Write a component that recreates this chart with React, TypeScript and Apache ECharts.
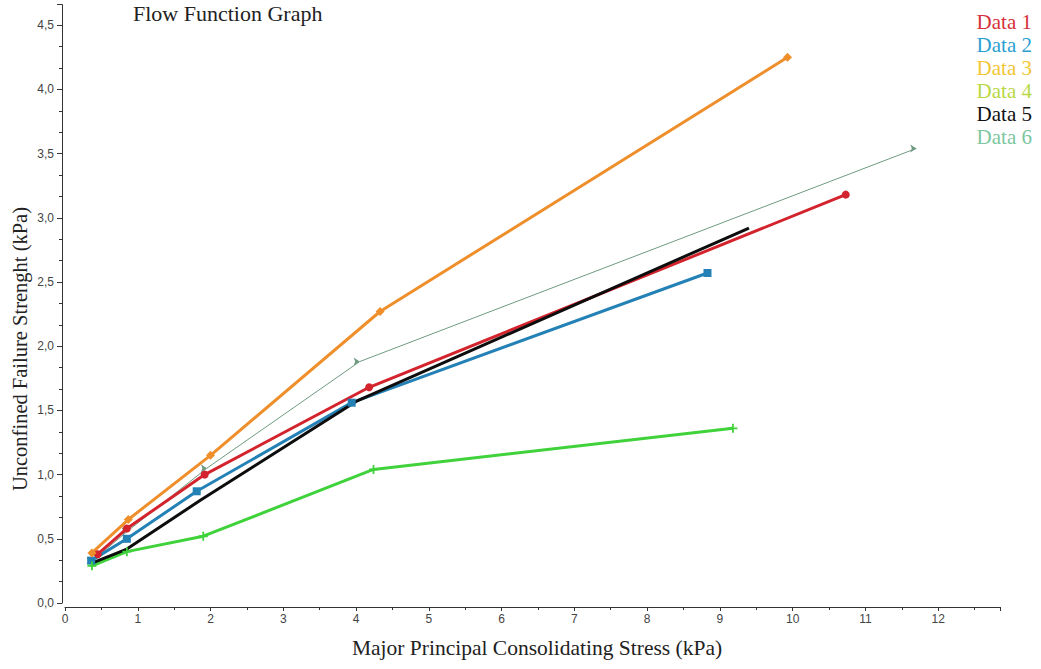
import React, { useEffect, useRef } from "react";
import * as echarts from "echarts";

const seriesNames = ["Data 1", "Data 2", "Data 3", "Data 4", "Data 5", "Data 6"];
const legendColors = ["#d6303a", "#2b9fd0", "#f2c634", "#b9d845", "#111111", "#7cc6a0"];
const lineColors = ["#d3232c", "#2381b6", "#ef8f2c", "#3fd23b", "#0d0d0d", "#6f9a80"];

const data1: [number, number][] = [[0.45, 0.38], [0.85, 0.58], [1.92, 1.0], [4.18, 1.68], [10.73, 3.18]];
const data2: [number, number][] = [[0.36, 0.33], [0.85, 0.5], [1.81, 0.87], [3.94, 1.56], [8.83, 2.57]];
const data3: [number, number][] = [[0.37, 0.39], [0.87, 0.65], [2.0, 1.15], [4.33, 2.27], [9.93, 4.25]];
const data4: [number, number][] = [[0.37, 0.29], [0.85, 0.4], [1.9, 0.52], [4.24, 1.04], [9.18, 1.36]];
const data5: [number, number][] = [[0.37, 0.31], [0.85, 0.42], [1.86, 0.8], [4.0, 1.57], [9.4, 2.92]];
const data6: [number, number][] = [[0.38, 0.33], [0.86, 0.56], [1.95, 1.05], [4.05, 1.88], [11.7, 3.54]];

const allData = [data1, data2, data3, data4, data5, data6];
const symbols = [
  "circle",
  "rect",
  "diamond",
  "path://M4,0H6V4H10V6H6V10H4V6H0V4H4Z",
  "none",
  "arrow",
];
const symbolSizes = [8, 8, 9, 9, 0, 6];
const lineWidths = [3, 3, 3, 3, 3, 1];

const titleText = "Flow Function Graph";
const xTitle = "Major Principal Consolidating Stress (kPa)";
const yTitle = "Unconfined Failure Strenght (kPa)";

export default function App() {
  const ref = useRef<HTMLDivElement>(null);
  useEffect(() => {
    if (!ref.current) return;
    const chart = echarts.init(ref.current, null, { renderer: "svg" });
    const serif = "'Liberation Serif', 'Times New Roman', serif";
    const sans = "'Liberation Sans', Arial, sans-serif";
    chart.setOption({
      animation: false,
      backgroundColor: "#ffffff",
      grid: { left: 65, right: 41, top: 4.6, bottom: 66, containLabel: false },
      legend: {
        orient: "vertical",
        right: 4,
        top: 6,
        itemWidth: 0,
        itemHeight: 0,
        itemGap: 2,
        icon: "rect",
        selectedMode: false,
        textStyle: { fontFamily: serif, fontSize: 21, padding: 0 },
        data: seriesNames.map((n, i) => ({ name: n, textStyle: { color: legendColors[i] } })),
      },
      graphic: [
        {
          type: "text",
          left: 133,
          top: 2,
          style: { text: titleText, font: `22px ${serif}`, fill: "#222" },
        },
        {
          type: "text",
          x: 537,
          y: 648,
          style: { text: xTitle, font: `21.5px ${serif}`, fill: "#222", textAlign: "center", textVerticalAlign: "middle" },
        },
        {
          type: "text",
          x: 20,
          y: 349,
          rotation: Math.PI / 2,
          style: { text: yTitle, font: `20.5px ${serif}`, fill: "#222", textAlign: "center", textVerticalAlign: "middle" },
        },
      ],
      xAxis: {
        type: "value",
        min: 0,
        max: 12.85,
        interval: 1,
        offset: 4,
        splitLine: { show: false },
        axisLine: { show: true, onZero: false, lineStyle: { color: "#333", width: 1 } },
        axisTick: { show: true, length: 4, lineStyle: { color: "#333" } },
        minorTick: { show: true, splitNumber: 2, length: 3, lineStyle: { color: "#333" } },
        axisLabel: {
          fontFamily: sans,
          fontSize: 12,
          color: "#444",
          margin: 6,
          showMaxLabel: false,
          formatter: (v: number) => String(v),
        },
      },
      yAxis: {
        type: "value",
        min: 0,
        max: 4.66,
        interval: 0.5,
        offset: 3,
        splitLine: { show: false },
        axisLine: { show: true, onZero: false, lineStyle: { color: "#333", width: 1 } },
        axisTick: { show: true, length: 5, lineStyle: { color: "#333" } },
        minorTick: { show: true, splitNumber: 3, length: 3, lineStyle: { color: "#333" } },
        axisLabel: {
          fontFamily: sans,
          fontSize: 12,
          color: "#444",
          margin: 8,
          showMaxLabel: false,
          formatter: (v: number) => v.toFixed(1).replace(".", ","),
        },
      },
      series: seriesNames.map((name, i) => ({
        name,
        type: "line",
        data: allData[i],
        symbol: symbols[i],
        symbolSize: symbolSizes[i],
        symbolRotate: i === 5 ? -90 : 0,
        showSymbol: symbols[i] !== "none",
        color: lineColors[i],
        itemStyle: { color: lineColors[i] },
        lineStyle: { color: lineColors[i], width: lineWidths[i] },
        z: i === 5 ? 1 : 2,
      })),
    });
    return () => chart.dispose();
  }, []);
  return <div ref={ref} style={{ width: 1041, height: 669, position: "absolute", left: 0, top: 0 }} />;
}
